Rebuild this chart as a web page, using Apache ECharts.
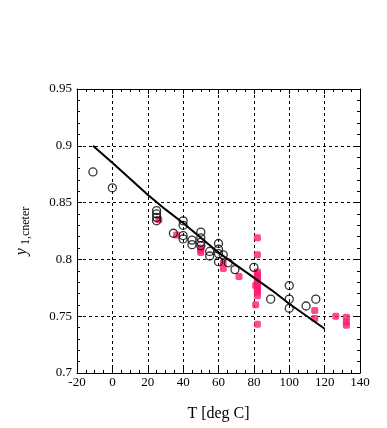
<!DOCTYPE html>
<html><head><meta charset="utf-8">
<script src="https://cdn.jsdelivr.net/npm/echarts@6/dist/echarts.min.js"></script>
<style>html,body{margin:0;padding:0;background:#fff}#c{width:387px;height:428px}</style>
</head><body><div id="c"></div>
<script>
// Fitted curve
var fitT = [-11, -5, 0, 10, 20, 30, 40, 50, 60, 70, 80, 90, 100, 110, 120];
var fitY = [0.900, 0.892, 0.885, 0.871, 0.857, 0.844, 0.832, 0.819, 0.806, 0.795, 0.784, 0.773, 0.761, 0.750, 0.739];
// Open circles (data set 1)
var circT = [-11, 0, 25, 25, 25, 25, 34.5, 40, 40, 40, 40, 45, 45, 50, 50, 50, 50, 55, 55, 60, 60, 60, 60, 62.7, 65.5, 69.3, 80, 89.5, 100, 100, 100, 109.5, 115];
var circY = [0.877, 0.863, 0.843, 0.840, 0.837, 0.834, 0.823, 0.834, 0.830, 0.821, 0.818, 0.817, 0.813, 0.824, 0.819, 0.815, 0.812, 0.807, 0.803, 0.814, 0.809, 0.805, 0.798, 0.804, 0.797, 0.791, 0.793, 0.765, 0.777, 0.765, 0.757, 0.759, 0.765];
// Filled squares (data set 2)
var sqT = [26.3, 36.3, 50, 50, 50, 62.7, 62.7, 71.6, 82, 82, 82, 82, 82, 82, 82, 82, 82, 82, 82, 82, 82, 81, 81, 82, 114.4, 114.4, 126.3, 132.3, 132.3, 132.3];
var sqY = [0.835, 0.8215, 0.810, 0.808, 0.806, 0.797, 0.792, 0.785, 0.819, 0.804, 0.789, 0.787, 0.785, 0.783, 0.781, 0.779, 0.777, 0.775, 0.773, 0.771, 0.768, 0.777, 0.760, 0.743, 0.755, 0.748, 0.750, 0.749, 0.745, 0.742];
var xTicks = [-20, 0, 20, 40, 60, 80, 100, 120, 140];
var yTicks = [0.7, 0.75, 0.8, 0.85, 0.9, 0.95];

function zip(a, b) { return a.map(function (v, i) { return [v, b[i]]; }); }
var font = 'Liberation Serif';
var chart = echarts.init(document.getElementById('c'));
var axisCommon = {
  axisLine: { show: true, onZero: false, lineStyle: { color: '#000', width: 1 } },
  axisTick: { show: true, inside: true, length: 5, lineStyle: { color: '#000' } },
  minorTick: { show: true, length: 3, lineStyle: { color: '#000' } }
};
chart.setOption({
  animation: false,
  backgroundColor: '#fff',
  grid: { left: 77, right: 27, top: 89, bottom: 55 },
  xAxis: [
    Object.assign({
      type: 'value', min: -20, max: 140, interval: 20,
      axisLabel: { color: '#000', fontFamily: font, fontSize: 13, margin: 3,
        formatter: function (v) { return xTicks.indexOf(v) >= 0 ? String(v) : ''; } },
      minorTick: { show: true, splitNumber: 4, length: 3, lineStyle: { color: '#000' } },
      splitLine: { show: true, lineStyle: { color: '#000', type: [3, 3], width: 1 } },
      name: 'T [deg C]', nameLocation: 'middle', nameGap: 33,
      nameTextStyle: { color: '#000', fontFamily: font, fontSize: 16 }
    }, { axisLine: axisCommon.axisLine, axisTick: axisCommon.axisTick }),
    Object.assign({
      type: 'value', min: -20, max: 140, interval: 20, position: 'top',
      axisLabel: { show: false }, splitLine: { show: false },
      minorTick: { show: true, splitNumber: 4, length: 3, lineStyle: { color: '#000' } }
    }, { axisLine: axisCommon.axisLine, axisTick: axisCommon.axisTick })
  ],
  yAxis: [
    Object.assign({
      type: 'value', min: 0.7, max: 0.95, interval: 0.05,
      axisLabel: { color: '#000', fontFamily: font, fontSize: 13, margin: 5,
        formatter: function (v) { return String(Math.round(v * 100) / 100); } },
      minorTick: { show: true, splitNumber: 5, length: 3, lineStyle: { color: '#000' } },
      splitLine: { show: true, lineStyle: { color: '#000', type: [3, 3], width: 1 } },
      name: '{a|y}{b| 1,cneter}', nameLocation: 'middle', nameGap: 45, nameRotate: 90,
      nameTextStyle: { color: '#000', fontFamily: font,
        rich: { a: { fontSize: 16, fontStyle: 'italic', fontFamily: font, color: '#000' },
                b: { fontSize: 12, fontFamily: font, color: '#000', padding: [8, 0, 0, 0] } } }
    }, { axisLine: axisCommon.axisLine, axisTick: axisCommon.axisTick }),
    Object.assign({
      type: 'value', min: 0.7, max: 0.95, interval: 0.05, position: 'right',
      axisLabel: { show: false }, splitLine: { show: false },
      minorTick: { show: true, splitNumber: 5, length: 3, lineStyle: { color: '#000' } }
    }, { axisLine: axisCommon.axisLine, axisTick: axisCommon.axisTick })
  ],
  series: [
    { type: 'scatter', data: zip(sqT, sqY), symbol: 'roundRect', symbolSize: 7,
      itemStyle: { color: '#ff1a72' }, z: 3 },
    { type: 'scatter', data: zip(circT, circY), symbol: 'circle', symbolSize: 8,
      itemStyle: { color: 'rgba(255,255,255,0)', borderColor: '#000', borderWidth: 1.3 }, z: 4 },
    { type: 'line', data: zip(fitT, fitY), showSymbol: false, symbol: 'none',
      lineStyle: { color: '#000', width: 2 }, z: 5 }
  ]
});
</script></body></html>
